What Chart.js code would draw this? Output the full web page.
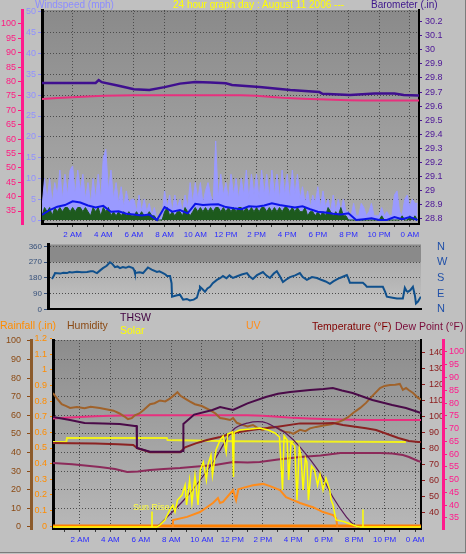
<!DOCTYPE html>
<html>
<head>
<meta charset="utf-8">
<script src="https://cdn.jsdelivr.net/npm/chart.js@4.4.1/dist/chart.umd.min.js"></script>
<style>
  body { margin: 0; background: #c0c0c0; }
  #wrap { position: relative; width: 466px; height: 554px; overflow: hidden; background: #c0c0c0;
          font-family: "Liberation Sans", Arial, sans-serif; }
  canvas { position: absolute; left: 0; }
  .lbl { position: absolute; white-space: nowrap; line-height: 1; }
  #frame { position: absolute; left: 0; top: 0; width: 465px; height: 552px;
           border-right: 1px solid #7c7c7c; border-bottom: 1px solid #7c7c7c; pointer-events: none; }
</style>
</head>
<body>
<div id="wrap">
  <canvas id="windChart" width="466" height="244" style="top:0"></canvas>
  <canvas id="dirChart" width="466" height="82" style="top:236px"></canvas>
  <canvas id="tempChart" width="466" height="241" style="top:313px"></canvas>

  <div class="lbl" style="left:35px;top:0;font-size:10px;color:#8c8cff">Windspeed (mph)</div>
  <div class="lbl" style="left:173px;top:0;font-size:10px;color:#ffff00">24 hour graph day : August 11 2006 ---</div>
  <div class="lbl" style="left:371px;top:0;font-size:10px;color:#3c148c">Barometer (.in)</div>

  <div class="lbl" style="left:0;top:320px;font-size:10.5px;color:#ff8c00">Rainfall (.in)</div>
  <div class="lbl" style="left:67px;top:320px;font-size:10.5px;color:#8b4a14">Humidity</div>
  <div class="lbl" style="left:120px;top:312px;font-size:10.5px;color:#400040">THSW</div>
  <div class="lbl" style="left:120px;top:325px;font-size:10.5px;color:#ffff00">Solar</div>
  <div class="lbl" style="left:246px;top:320px;font-size:10.5px;color:#ff8c1a">UV</div>
  <div class="lbl" style="left:312px;top:321px;font-size:10.5px;color:#800000">Temperature (°F)</div>
  <div class="lbl" style="left:395px;top:321px;font-size:10.5px;color:#7a0a3a">Dew Point (°F)</div>
  <div class="lbl" style="left:133px;top:503px;font-size:9px;color:#ffff40">Sun Rise</div>
  <div id="frame"></div>
</div>

<script>
// ---- time axis ----
const timeTicks = [2, 4, 6, 8, 10, 12, 14, 16, 18, 20, 22, 24];
const timeLabels = ['2 AM', '4 AM', '6 AM', '8 AM', '10 AM', '12 PM', '2 PM', '4 PM', '6 PM', '8 PM', '10 PM', '0 AM'];
const hourMarks = Array.from({ length: 24 }, (_, i) => i + 1);

// ---- top panel: wind (10 minute samples, mph) ----
const STEP = 1 / 6;
const gust = [
  3, 10, 5, 10, 4, 9,    6, 12, 5, 11, 6, 12,   13, 6, 12, 7, 11, 5,   9, 4, 10, 5, 11, 5,
  15, 17, 7, 12, 5, 9,   4, 8, 3, 7, 4, 5,      5, 2, 6, 2, 5, 2,      4, 1, 3, 0, 0, 1,
  7, 3, 6, 2, 6, 3,      5, 2, 6, 3, 9, 4,      9, 5, 9, 4, 7, 9,      6, 4, 19, 5, 11, 6,
  9, 5, 11, 6, 10, 5,    10, 6, 12, 5, 11, 6,   11, 5, 12, 6, 11, 5,   12, 6, 11, 5, 12, 6,
  11, 5, 12, 6, 11, 5,   8, 4, 7, 3, 6, 4,      8, 3, 7, 3, 5, 2,      6, 2, 5, 2, 5, 2,
  2, 1, 4, 1, 1, 4,      3, 1, 2, 4, 1, 1,      1, 3, 1, 2, 1, 1,      6, 7, 2, 1, 5, 6,
  3, 5, 4, 4
];
const windLow = [
  1, 3, 2, 3, 1, 3,   2, 3, 2, 3, 3, 2,   3, 2, 3, 3, 2, 3,   2, 1, 3, 2, 3, 1,
  3, 2, 3, 1, 2, 1,   2, 1, 2, 1, 2, 1,   1, 2, 1, 2, 1, 1,   2, 1, 1, 0, 0, 0,
  2, 3, 1, 2, 1, 2,   2, 1, 3, 2, 1, 2,   3, 2, 3, 2, 3, 2,   3, 2, 3, 3, 2, 3,
  2, 3, 2, 3, 2, 3,   3, 2, 3, 2, 3, 2,   3, 2, 3, 3, 2, 3,   2, 3, 2, 3, 2, 3,
  3, 2, 3, 2, 3, 2,   2, 3, 1, 2, 2, 1,   2, 1, 2, 1, 3, 2,   1, 2, 1, 3, 1, 1,
  0, 0, 0, 0, 0, 0,   0, 0, 0, 0, 0, 0,   0, 1, 0, 0, 0, 0,   0, 0, 0, 1, 0, 0,
  1, 0, 1, 0
];
// half-hour average wind
const avgWind = [
  1.2, 2.4, 3.2, 3.6, 4.5, 4.2, 3.5, 3.0, 3.4, 2.0, 2.1, 1.5, 1.3, 1.1, 1.3, 0, 3.1, 2.0, 2.4, 1.6,
  3.9, 3.6, 3.7, 3.8, 3.1, 2.8, 2.6, 3.3, 3.2, 3.5, 4.0, 3.6, 3.3, 3.0, 3.3, 2.6, 2.0, 1.8, 1.5, 1.3,
  1.6, 0, 0.2, 0.4, 0, 0, 0.7, 0.2, 0.7, 0
];
// [hour, inHg]
const barometer = [
  [0, 29.765], [3.5, 29.765], [3.7, 29.785], [3.9, 29.77], [5, 29.745], [6, 29.72], [7, 29.715],
  [8, 29.735], [9, 29.76], [10, 29.772], [11, 29.768], [12, 29.762], [12.4, 29.75], [14.2, 29.736],
  [16.2, 29.715], [18.1, 29.70], [18.3, 29.688], [20.1, 29.68], [21.7, 29.69], [23, 29.69],
  [23.6, 29.68], [24.6, 29.675]
];
// hourly dew point (°F), hours 0..25
const dewPoint = [
  73.9, 74.2, 74.5, 74.8, 75.0, 75.1, 75.2, 75.2, 75.2, 75.2, 75.2, 75.2, 75.2,
  75.2, 75.0, 74.6, 74.2, 74.0, 73.8, 73.6, 73.5, 73.4, 73.4, 73.4, 73.4, 73.4
];

const windTicks = [0, 5, 10, 15, 20, 25, 30, 35, 40, 45, 50];
const dewTicksTop = [35, 40, 45, 50, 55, 60, 65, 70, 75, 80, 85, 90, 95, 100];
const baroTicks = [28.8, 28.9, 29, 29.1, 29.2, 29.3, 29.4, 29.5, 29.6, 29.7, 29.8, 29.9, 30, 30.1, 30.2];

// ---- middle panel: wind direction [hour, degrees] ----
const windDir = [
  [0.26, 174], [0.4, 195], [0.46, 208], [0.8, 205], [1.0, 210], [1.25, 208], [1.4, 214], [1.57, 212],
  [1.9, 216], [2.2, 213], [2.56, 214], [2.8, 218], [2.95, 219], [3.1, 212], [3.21, 208], [3.4, 222],
  [3.6, 236], [3.85, 250], [4.06, 270], [4.2, 262], [4.39, 242], [4.55, 246], [4.72, 236], [4.9, 242],
  [5.1, 238], [5.3, 245], [5.57, 236], [5.65, 225], [5.7, 208], [6.0, 212], [6.23, 208], [6.4, 225],
  [6.55, 240], [6.8, 228], [7.14, 214], [7.3, 218], [7.54, 208], [7.7, 200], [7.8, 191], [8.0, 191],
  [8.1, 150], [8.13, 73], [8.4, 80], [8.65, 84], [8.85, 56], [9.1, 60], [9.3, 51], [9.55, 56],
  [9.76, 67], [9.9, 110], [9.96, 129], [10.1, 118], [10.29, 101], [10.45, 120], [10.62, 129],
  [10.8, 150], [11.07, 169], [11.3, 180], [11.47, 191], [11.7, 178], [11.9, 195], [12.12, 180],
  [12.4, 190], [12.7, 200], [13.04, 208], [13.2, 190], [13.43, 174], [13.7, 196], [14.09, 214],
  [14.3, 195], [14.55, 180], [14.8, 205], [15.0, 219], [15.2, 190], [15.4, 157], [15.6, 170],
  [15.86, 185], [16.2, 195], [16.51, 208], [16.7, 185], [16.97, 169], [17.3, 185], [17.63, 180],
  [17.9, 170], [18.2, 160], [18.48, 146], [18.7, 160], [18.9, 170], [19.13, 180], [19.4, 190],
  [19.59, 197], [19.7, 175], [19.79, 152], [20.2, 152], [20.64, 152], [20.8, 140], [20.9, 129],
  [21.5, 129], [21.95, 129], [22.1, 100], [22.21, 73], [22.5, 68], [22.87, 62], [23.26, 62],
  [23.39, 124], [23.5, 105], [23.59, 101], [23.75, 110], [23.92, 129], [24.05, 80], [24.12, 34],
  [24.25, 45], [24.44, 73]
];
const dirTicks = [0, 90, 180, 270, 360];
const compass = ['N', 'E', 'S', 'W', 'N'];

// ---- bottom panel [hour, value] ----
const humidity = [
  [0.23, 72], [0.5, 69], [0.8, 66], [1.1, 65], [1.35, 64], [1.8, 64.5], [2.3, 63.8], [2.7, 64.6],
  [3.3, 64], [3.8, 63.2], [4.2, 62.5], [4.6, 61], [4.9, 59.5], [5.15, 58], [5.4, 58.5], [5.6, 60],
  [5.9, 61], [6.2, 63], [6.6, 66], [6.9, 66.5], [7.25, 68], [7.6, 67.5], [7.9, 69], [8.2, 71],
  [8.4, 72.5], [8.6, 70.5], [8.9, 69], [9.2, 67.5], [9.55, 66], [10.0, 65], [10.5, 63], [10.9, 61],
  [11.2, 58.6], [11.5, 58.2], [11.85, 57.5], [12.05, 58.5], [12.3, 56], [12.6, 55], [13.0, 54],
  [13.36, 54.8], [13.7, 53], [14.0, 52], [14.4, 53.5], [14.87, 53.8], [15.2, 52], [15.5, 51],
  [15.8, 50.8], [16.0, 50], [16.45, 52.2], [16.8, 51.5], [17.1, 53], [17.5, 53.8], [18.0, 54.5],
  [18.5, 55.2], [19.0, 56.5], [19.27, 57.5], [19.6, 59], [19.93, 61.3], [20.4, 64], [20.78, 66.7],
  [21.2, 70.5], [21.7, 74.7], [22.0, 75.8], [22.36, 76.3], [22.7, 76.5], [23.0, 76.9], [23.2, 73.7],
  [23.41, 74.7], [23.6, 73.5], [23.87, 72], [24.2, 69.4], [24.39, 68.5]
];
const temperature = [
  [0, 83.8], [1.5, 83.6], [3, 83.4], [4.5, 83], [5.5, 82.5], [5.75, 80.6], [6.6, 78], [7.5, 78],
  [8.57, 78], [8.9, 81], [9.6, 83.5], [10.34, 85.6], [11.2, 87.5], [12.05, 90], [13.36, 92],
  [14.87, 93.8], [16.45, 96], [17.76, 96], [18.62, 96.2], [19.27, 95], [20.78, 93], [21.44, 91.9],
  [22.9, 86.9], [23.6, 85], [24.2, 84.4], [24.39, 84.4]
];
const thsw = [
  [0, 100.3], [0.23, 100], [0.8, 99], [1.35, 98.1], [2.3, 96.2], [3.5, 95.9], [4.6, 95.6], [5.6, 94.4],
  [5.72, 94.4], [5.74, 80.6], [6.6, 78.3], [8.6, 78.3], [8.77, 78.8], [8.79, 95.6], [9.5, 101.5],
  [10.7, 104.4], [11.2, 106.2], [12.05, 104.4], [13.0, 108.5], [14.2, 112.5], [15.0, 114.5],
  [15.8, 115.6], [17.1, 116.9], [18.0, 117.5], [18.6, 118.1], [19.2, 116.5], [19.9, 115],
  [21.2, 110.6], [22.5, 107.5], [23.4, 105.6], [24.2, 103.1], [24.39, 102.5]
];
const insideTemp = [
  [0, 71.3], [0.23, 71.2], [1.5, 70.5], [3.3, 68.7], [4.3, 67.5], [5.1, 65.6], [5.8, 66], [6.6, 66.9],
  [7.5, 67.5], [8.57, 68.1], [9.7, 69], [10.87, 70], [12.05, 71.9], [13.0, 71.6], [13.8, 71.9],
  [15.0, 73.5], [16.45, 75], [17.8, 76], [19.1, 77.5], [20.4, 77.5], [21.7, 77.5], [22.5, 77.2],
  [23.2, 76.2], [23.6, 75], [24.2, 72.5], [24.39, 72]
];
const yellowTrace = [[0, 84.4], [1.1, 84.4], [1.15, 86.9], [7.7, 86.9], [7.75, 85.6], [12, 84.8], [23.4, 84.4]];
const solar = [
  [0, 0], [6.73, 0], [7.06, 0], [7.25, 20], [7.58, 64], [7.9, 155], [8.1, 200], [8.24, 136], [8.4, 245],
  [8.7, 290], [8.9, 380], [9.0, 200], [9.2, 427], [9.35, 218], [9.55, 470], [9.75, 200], [9.9, 518],
  [10.1, 590], [10.3, 427], [10.4, 564], [10.6, 655], [10.7, 470], [10.93, 700], [11.2, 790],
  [11.4, 827], [11.6, 680], [11.7, 845], [12.0, 864], [12.08, 455], [12.12, 860], [12.5, 882],
  [13.2, 890], [13.8, 900], [14.35, 882], [14.8, 855], [15.1, 818], [15.3, 336], [15.4, 827],
  [15.6, 790], [15.7, 427], [15.86, 772], [16.1, 736], [16.25, 245], [16.4, 718], [16.5, 655],
  [16.65, 336], [16.8, 627], [16.9, 590], [17.0, 245], [17.2, 555], [17.4, 518], [17.6, 380],
  [17.76, 482], [17.96, 336], [18.15, 445], [18.4, 336], [18.5, 240], [18.62, 200], [18.8, 64],
  [19.3, 50], [19.9, 20], [20.2, 5], [20.4, 0], [25, 0]
];
const solarMax = [
  [7.06, 0], [9.0, 273], [10.7, 582], [12.05, 882], [13.0, 945], [14.0, 955], [14.8, 909], [15.5, 855],
  [16.45, 727], [17.76, 490], [18.6, 273], [19.5, 91], [20.1, 9], [20.4, 0]
];
const uv = [
  [8.1, 0], [8.11, 1.6], [9.03, 2.3], [9.88, 3.4], [10.73, 5.45], [11.06, 6.6], [11.19, 5.45],
  [11.39, 5.7], [12.05, 8.4], [12.25, 6.1], [12.4, 8.6], [12.7, 8.9], [13.36, 9.5], [14.02, 9.8],
  [14.48, 9.3], [15.13, 8.4], [15.53, 6.8], [15.99, 6.1], [16.45, 5.45], [16.84, 5.0], [17.3, 4.5],
  [17.96, 3.4], [18.62, 2.7], [18.82, 2.0], [18.9, 0]
];
// hourly rainfall (in), hours 0..25
const rainfall = [0, 0, 0, 0, 0, 0, 0, 0, 0, 0, 0, 0, 0, 0, 0, 0, 0, 0, 0, 0, 0, 0, 0, 0, 0, 0];
const sunRise = [[6.73, 0], [6.73, 140]];
const sunSet = [[20.58, 0], [20.58, 160]];

const humTicks = [0, 10, 20, 30, 40, 50, 60, 70, 80, 90, 100];
const rainTicks = [0, 0.1, 0.2, 0.3, 0.4, 0.5, 0.6, 0.7, 0.8, 0.9, 1, 1.1, 1.2];
const tempTicks = [40, 50, 60, 70, 80, 90, 100, 110, 120, 130, 140];
const dewTicksLow = [35, 40, 45, 50, 55, 60, 65, 70, 75, 80, 85, 90, 95, 100];

// ---- helpers ----
Chart.defaults.font.family = '"Liberation Sans", Arial, sans-serif';
Chart.defaults.font.size = 9;

const pts = arr => arr.map(([x, y]) => ({ x, y }));
const series = (vals, step) => vals.map((y, i) => ({ x: i * step, y }));
const fixTicks = vals => s => { s.ticks = vals.map(v => ({ value: v })); };
const fixWidth = w => s => { s.width = w; };
const fixHeight = h => s => { s.height = h; };
const fmt = v => String(Number(v.toFixed(1)));

function ds(label, data, color, width, yAxisID, extra) {
  return Object.assign({ label, data, yAxisID, borderColor: color, backgroundColor: color,
    borderWidth: width, pointRadius: 0, tension: 0, fill: false }, extra || {});
}

const plotBg = {
  id: 'plotBg',
  beforeDraw(chart, args, o) {
    const { ctx, chartArea: a } = chart;
    ctx.save();
    if (o.page) { ctx.fillStyle = o.page; ctx.fillRect(0, 0, chart.width, chart.height); }
    const g = ctx.createLinearGradient(0, a.top, 0, a.bottom);
    g.addColorStop(0, o.top);
    g.addColorStop(1, o.bottom);
    ctx.fillStyle = g;
    ctx.fillRect(a.left, a.top, a.width, a.height);
    if (o.band) {
      const s = chart.scales[o.band.axis];
      const y1 = s.getPixelForValue(o.band.to), y2 = s.getPixelForValue(o.band.from);
      ctx.fillStyle = o.band.color;
      ctx.fillRect(a.left, Math.max(a.top, y1), a.width, y2 - Math.max(a.top, y1));
    }
    ctx.restore();
  }
};
Chart.register(plotBg);

function timeAxis(min, max, withLabels) {
  return {
    type: 'linear', min, max,
    afterFit: fixHeight(withLabels ? 20 : 8),
    afterBuildTicks: fixTicks(hourMarks),
    ticks: {
      display: withLabels, autoSkip: false, maxRotation: 0, padding: 3, color: '#2a2aff', font: { size: 8 },
      callback: v => { const i = timeTicks.indexOf(v); return i < 0 ? '' : timeLabels[i]; }
    },
    grid: {
      display: withLabels,
      color: c => (c.tick && timeTicks.includes(c.tick.value)) ? '#4c4c4c' : 'rgba(0,0,0,0)',
      tickColor: '#3a3a3a', tickLength: 3, tickBorderDash: []
    },
    border: { color: '#000', width: 2, dash: [1, 2] }
  };
}

function yAxis(o) {
  return {
    position: o.pos, weight: o.weight, display: o.display !== false, min: o.min, max: o.max,
    afterFit: fixWidth(o.width),
    afterBuildTicks: o.ticks ? fixTicks(o.ticks) : undefined,
    ticks: { autoSkip: false, color: o.color, padding: o.pad, font: { size: o.size || 9 }, callback: o.cb || fmt },
    grid: {
      drawOnChartArea: !!o.gridOn, color: '#4c4c4c', drawTicks: true,
      tickColor: o.tickC || o.color, tickLength: o.tick === undefined ? 4 : o.tick, tickBorderDash: []
    },
    border: { display: o.borderW > 0, color: o.borderC, width: o.borderW, dash: [1, 2] }
  };
}

const base = pads => ({
  responsive: false, devicePixelRatio: 1, animation: false, events: [],
  layout: { padding: pads }
});

// ---- top panel ----
new Chart(document.getElementById('windChart'), {
  type: 'line',
  data: { datasets: [
    ds('Average wind', series(avgWind, 0.5), '#0c14e8', 2, 'yWind'),
    ds('Wind speed', series(windLow, STEP), '#1d5a1d', 1, 'yWind', { fill: 'origin' }),
    ds('Wind gust', series(gust, STEP), '#9a9aff', 1, 'yWind', { fill: 'origin' }),
    ds('Barometer', pts(barometer), '#3f0f8f', 2.5, 'yBaro'),
    ds('Dew Point', series(dewPoint, 1), '#e8307e', 2, 'yDew')
  ]},
  options: Object.assign(base({ top: 10, left: 0, right: 0, bottom: 0 }), {
    plugins: { legend: { display: false }, tooltip: { enabled: false },
               plotBg: { top: '#8a8a8a', bottom: '#acacac' } },
    scales: {
      x: timeAxis(0, 24.6, true),
      yDew: yAxis({ pos: 'left', weight: 2, width: 22, min: 30.49, max: 104.8, ticks: dewTicksTop,
                    color: '#ff1a80', pad: 2, borderC: '#ff1a8c', borderW: 3 }),
      yWind: yAxis({ pos: 'left', weight: 1, width: 20, min: -0.96, max: 50.48, ticks: windTicks,
                     color: '#9090ff', pad: 2, borderC: '#000', borderW: 3, gridOn: true }),
      yBaro: yAxis({ pos: 'right', weight: 1, width: 47, min: 28.7645, max: 30.282, ticks: baroTicks,
                     color: '#4b1496', pad: 3, tick: 3, borderC: '#000', borderW: 2 })
    }
  })
});

// ---- middle panel ----
new Chart(document.getElementById('dirChart'), {
  type: 'line',
  data: { datasets: [ ds('Wind direction', pts(windDir), '#10508c', 2, 'yDir') ] },
  options: Object.assign(base({ top: 8, left: 0, right: 0, bottom: 0 }), {
    plugins: { legend: { display: false }, tooltip: { enabled: false },
               plotBg: { top: '#a2a2a2', bottom: '#c4c4c4',
                         band: { axis: 'yDir', from: 270, to: 371, color: '#8a8a8a' } } },
    scales: {
      x: timeAxis(0, 24.45, false),
      yDir: yAxis({ pos: 'left', weight: 1, width: 48, min: 0, max: 371, ticks: dirTicks,
                    color: '#36507a', pad: 2, size: 8, borderC: '#000', borderW: 3, gridOn: true,
                    cb: v => String(v) }),
      yCompass: yAxis({ pos: 'right', weight: 1, width: 45, min: 0, max: 371, ticks: dirTicks,
                        color: '#2050a8', tickC: 'rgba(0,0,0,0)', pad: 2, size: 11, tick: 14, borderW: 0,
                        cb: v => compass[dirTicks.indexOf(v)] })
    }
  })
});

// ---- bottom panel ----
new Chart(document.getElementById('tempChart'), {
  type: 'line',
  data: { datasets: [
    ds('Sun rise', pts(sunRise), '#ffff00', 1.5, 'ySol'),
    ds('Sun set', pts(sunSet), '#ffff00', 1.5, 'ySol'),
    ds('Solar', pts(solar), '#ffff00', 1.5, 'ySol'),
    ds('UV', pts(uv), '#ff8c1a', 2, 'yUV'),
    ds('Solar max', pts(solarMax), '#5a1a5a', 1.2, 'ySol', { tension: 0.35 }),
    ds('THSW', pts(thsw), '#4a0a48', 2, 'yTemp'),
    ds('Temperature', pts(temperature), '#8b2222', 2, 'yTemp'),
    ds('Humidity', pts(humidity), '#a0622a', 2, 'yHum'),
    ds('Dew Point', series(dewPoint, 1), '#e8307e', 2, 'yDew'),
    ds('Inside', pts(insideTemp), '#8c2a5a', 2, 'yTemp'),
    ds('Yellow trace', pts(yellowTrace), '#f0f020', 2, 'yTemp'),
    ds('Rainfall', series(rainfall, 1), '#ff8000', 3, 'yRain')
  ]},
  options: Object.assign(base({ top: 27, left: 0, right: 0, bottom: 5 }), {
    plugins: { legend: { display: false }, tooltip: { enabled: false },
               plotBg: { page: '#c0c0c0', top: '#8c8c8c', bottom: '#b8b8b8' } },
    scales: {
      x: timeAxis(0.23, 24.39, true),
      yHum: yAxis({ pos: 'left', weight: 2, width: 31, min: -1.08, max: 100.5, ticks: humTicks,
                    color: '#8b4a14', pad: 6, borderC: '#8b5a2b', borderW: 3, gridOn: true,
                    cb: v => String(v) }),
      yRain: yAxis({ pos: 'left', weight: 1, width: 22, min: -0.019, max: 1.192, ticks: rainTicks,
                     color: '#ff8c00', pad: 3, tick: 3, borderC: '#000', borderW: 3 }),
      yTemp: yAxis({ pos: 'right', weight: 1, width: 22, min: 30, max: 148.1, ticks: tempTicks,
                     color: '#8b1a1a', pad: 4, borderC: '#000', borderW: 2, cb: v => String(v) }),
      yDew: yAxis({ pos: 'right', weight: 2, width: 23, min: 30.69, max: 104.69, ticks: dewTicksLow,
                    color: '#ff1a8c', pad: 2, borderC: '#ff1a8c', borderW: 3, cb: v => String(v) }),
      ySol: { display: false, min: -18, max: 1700 },
      yUV: { display: false, min: -0.45, max: 42.5 }
    }
  })
});
</script>
</body>
</html>
